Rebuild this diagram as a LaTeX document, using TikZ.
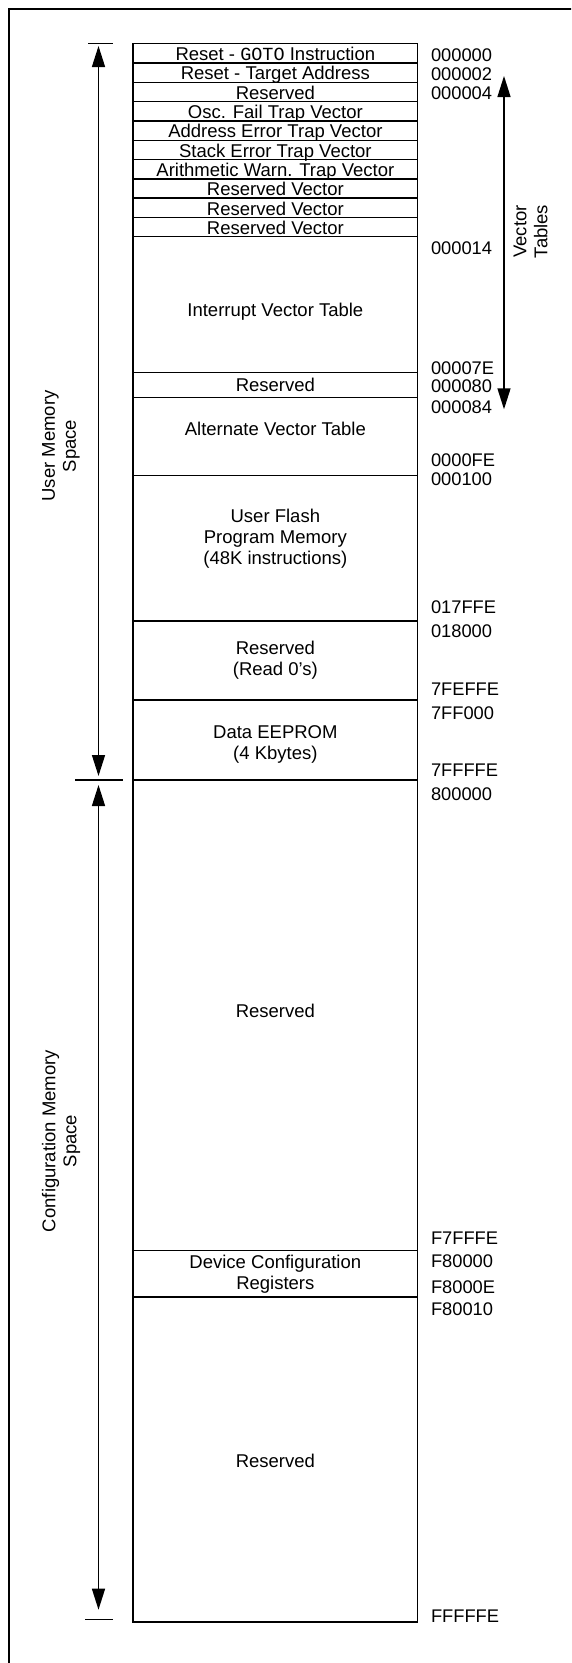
\documentclass[tikz,border=0pt]{standalone}
\usepackage{fontspec}
\setmainfont{Liberation Sans}
\setmonofont{Liberation Mono}
\usetikzlibrary{arrows.meta}
\begin{document}
\begin{tikzpicture}[x=1pt,y=-1pt,
  every node/.style={font=\fontsize{18.5}{21}\selectfont, inner sep=0pt, outer sep=0pt},
  cell/.style={draw, line width=1.4pt, minimum width=284.7pt, text height=14.5pt, text depth=0pt},
  block/.style={draw, line width=1.4pt, minimum width=284.7pt},
  lbl/.style={align=center},
  addr/.style={anchor=base west, font=\fontsize{18.3}{21}\selectfont},
  rule/.style={line width=1.4pt},
  dimarrow/.style={line width=1.4pt, {Triangle[length=21pt,width=13pt]}-{Triangle[length=21pt,width=13pt]}},
]
\useasboundingbox (0,0) rectangle (571,1663);
\begin{scope}
  \clip (0,0) rectangle (571,1663);
  \draw[rule] (9,1700) -- (9,9) -- (620,9);
\end{scope}

% small vector rows
\foreach \i/\t in {1/{Reset - \texttt{GOTO} Instruction},
                   2/{Reset - Target Address},
                   3/{Reserved},
                   4/{Osc. Fail Trap Vector},
                   5/{Address Error Trap Vector},
                   6/{Stack Error Trap Vector},
                   7/{Arithmetic Warn. Trap Vector},
                   8/{Reserved Vector},
                   9/{Reserved Vector},
                   10/{Reserved Vector}}{
  \node[cell, minimum height=19.3pt] (r\i) at (275.35,{43.7+19.3*(\i-0.5)}) {\t};
}

% large blocks
\node[block, minimum height=136pt]   (r11) at (275.35,304.7)  {};
\node[block, minimum height=25pt]    (r12) at (275.35,385.2)  {};
\node[block, minimum height=77.6pt]  (r13) at (275.35,436.5)  {};
\node[block, minimum height=145.7pt] (r14) at (275.35,548.15) {};
\node[block, minimum height=79pt]    (r15) at (275.35,660.5)  {};
\node[block, minimum height=80pt]    (r16) at (275.35,740)    {};
\node[block, minimum height=470.3pt] (r17) at (275.35,1015.15) {};
\node[block, minimum height=46.7pt]  (r18) at (275.35,1273.65) {};
\node[block, minimum height=325pt]   (r19) at (275.35,1459.5) {};

% block labels
\node[anchor=base] (l11) at (275.35,316.5) {Interrupt Vector Table};
\node[anchor=base] (l12) at (275.35,391.5) {Reserved};
\node[anchor=base] (l13) at (275.35,435.5) {Alternate Vector Table};
\node[lbl] (l14) at (275.35,539.1) {User Flash\\Program Memory\\(48K instructions)};
\node[lbl] (l15) at (275.35,660.5) {Reserved\\(Read 0’s)};
\node[lbl] (l16) at (275.35,744.6) {Data EEPROM\\(4 Kbytes)};
\node[anchor=base] (l17) at (275.35,1017.2) {Reserved};
\node[lbl] (l18) at (275.35,1274) {Device Configuration\\Registers};
\node[anchor=base] (l19) at (275.35,1467.5) {Reserved};

% addresses
\foreach \n/\y/\t in {a1/61/000000, a2/80/000002, a3/99.3/000004,
                      a4/254.3/000014, a5/374/00007E, a6/392.7/000080,
                      a7/413.3/000084, a8/466.7/0000FE, a9/485.7/000100,
                      a10/613.3/017FFE, a11/637.3/018000, a12/695/7FEFFE,
                      a13/719.3/7FF000, a14/776.7/7FFFFE, a15/800/800000,
                      a16/1244.3/F7FFFE, a17/1267.7/F80000, a18/1293.3/F8000E,
                      a19/1315/F80010, a20/1622/FFFFFE}{
  \node[addr] (\n) at (431,\y) {\t};
}

% span arrows
\coordinate (umtop) at (98.5,46);
\coordinate (umbot) at (98.5,776);
\coordinate (cmtop) at (98.5,785);
\coordinate (cmbot) at (98.5,1609.7);
\coordinate (vttop) at (504,76);
\coordinate (vtbot) at (504,409.3);
\draw[dimarrow] (umtop) -- (umbot);
\draw[dimarrow] (cmtop) -- (cmbot);
\draw[dimarrow] (vttop) -- (vtbot);

% ticks
\coordinate (t1a) at (88,43.7);   \coordinate (t1b) at (113,43.7);
\coordinate (t2a) at (75,780);    \coordinate (t2b) at (122.7,780);
\coordinate (t3a) at (85,1619.7); \coordinate (t3b) at (112.7,1619.7);
\draw[rule] (t1a) -- (t1b);
\draw[rule] (t2a) -- (t2b);
\draw[rule] (t3a) -- (t3b);

% side labels
\node[lbl, rotate=90] (ums) at (61,446) {User Memory\\Space};
\node[lbl, rotate=90] (cms) at (61,1141) {Configuration Memory\\Space};
\node[lbl, rotate=90] (vt) at (530.7,231.5) {Vector\\Tables};
\end{tikzpicture}
\end{document}
